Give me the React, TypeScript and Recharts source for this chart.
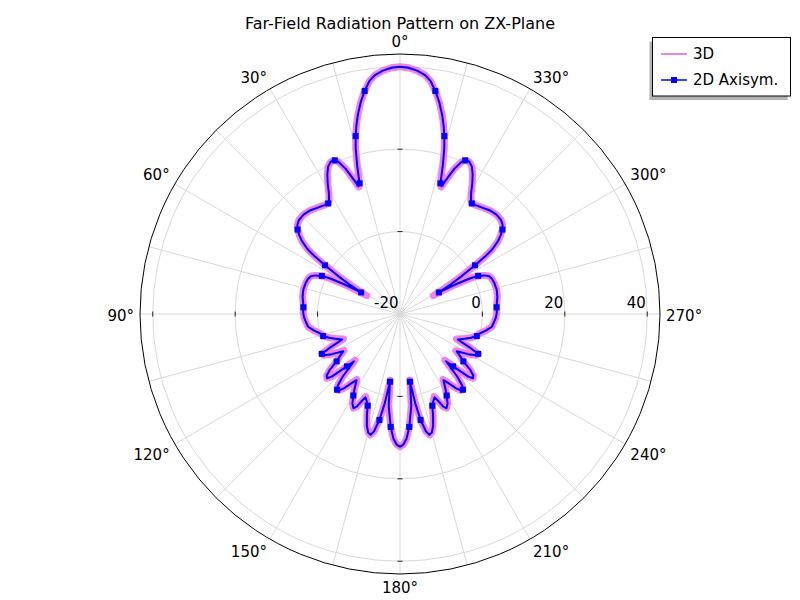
import { RadarChart, Radar, PolarGrid, PolarAngleAxis, PolarRadiusAxis } from 'recharts'

// far-field pattern, dB, theta counter-clockwise from the top (0..358)
const angles = [
  0, 2, 4, 6, 7.5, 9, 10.5, 12, 13, 14, 15, 16, 17.2, 18, 19, 20.5, 22, 23, 24.5, 26,
  27.5, 29, 30.5, 32, 33, 35, 38, 41, 44, 47, 49, 50.5, 52, 53.5, 55, 56, 57, 58.5, 60, 61,
  62, 63, 64, 65.5, 67, 69, 72, 76, 80, 83, 86, 89, 92, 95, 98, 101, 104, 106, 108.5, 111,
  113.8, 115.5, 117, 118.5, 120.5, 123.3, 125, 126.8, 128.5, 130, 131.3, 132.5, 134.6, 135.8, 137.5, 139, 140.3, 141.5, 143, 145,
  146.7, 148.5, 150.2, 152, 153.7, 155, 156.3, 157.5, 159, 160.6, 162, 163.5, 165, 166.3, 167.5, 169, 170.3, 171.6, 173, 175.3,
  177, 178.5, 180,
  181.5, 183, 184.7, 187, 188.4, 189.7, 191, 192.5, 193.7, 195, 196.5, 198, 199.4, 201, 202.5, 203.7, 205, 206.3, 208, 209.8,
  211.5, 213.3, 215, 217, 218.5, 219.7, 221, 222.5, 224.2, 225.4, 227.5, 228.7, 230, 231.5, 233.2, 235, 236.7, 239.5, 241.5, 243,
  244.5, 246.2, 249, 251.5, 254, 256, 259, 262, 265, 268, 271, 274, 277, 280, 284, 288, 291, 293, 294.5, 296,
  297, 298, 299, 300, 301.5, 303, 304, 305, 306.5, 308, 309.5, 311, 313, 316, 319, 322, 325, 327, 328, 329.5,
  331, 332.5, 334, 335.5, 337, 338, 339.5, 341, 342, 342.8, 344, 345, 346, 347, 348, 349.5, 351, 352.5, 354, 356, 358,
]

const axisym2d = [
  40.0, 39.8, 39.2, 38.3, 37.0, 34.8, 32.3, 29.3, 27.0, 24.5, 21.5, 17.8, 13.2, 12.6, 14.5, 17.6, 19.8, 20.5, 20.6, 19.8,
  18.2, 16.2, 14.0, 12.5, 12.0, 12.2, 12.7, 13.3, 13.6, 13.5, 13.0, 12.2, 11.0, 9.5, 7.3, 4.8, 1.7, -2.5, -6.5, -9.2,
  -4.5, -1.0, 1.1, 2.6, 3.5, 3.9, 4.1, 4.2, 4.0, 3.7, 3.5, 3.5, 3.3, 2.9, 2.5, 1.2, -0.2, -0.6, -1.8, -3.2,
  -4.6, -1.5, 1.3, 1.0, -0.8, -3.5, -2.2, -0.8, 1.8, 3.2, 3.6, 2.5, -1.9, -4.0, 0.5, 3.0, 3.9, 3.7, 2.5, 0.5,
  -0.8, 1.0, 2.8, 4.6, 5.5, 4.8, 3.0, 1.9, 2.6, 3.6, 6.0, 8.3, 9.8, 10.2, 9.2, 6.2, 2.0, -3.4, 2.5, 7.5,
  10.3, 11.7, 12.2,
  11.7, 10.3, 7.5, 2.5, -3.4, 2.0, 6.2, 9.2, 10.2, 9.8, 8.3, 6.0, 3.6, 2.6, 1.9, 3.0, 4.8, 5.5, 4.6, 2.8,
  1.0, -0.8, 0.5, 2.5, 3.7, 3.9, 3.0, 0.5, -4.0, -1.9, 2.5, 3.6, 3.2, 1.8, -0.8, -2.2, -3.5, -0.8, 1.0, 1.3,
  -1.5, -4.6, -3.2, -1.8, -0.6, -0.2, 1.2, 2.5, 2.9, 3.3, 3.5, 3.5, 3.7, 4.0, 4.2, 4.1, 3.9, 3.5, 2.6, 1.1,
  -1.0, -4.5, -9.2, -6.5, -2.5, 1.7, 4.8, 7.3, 9.5, 11.0, 12.2, 13.0, 13.5, 13.6, 13.3, 12.7, 12.2, 12.0, 12.5, 14.0,
  16.2, 18.2, 19.8, 20.6, 20.5, 19.8, 17.6, 14.5, 12.6, 13.2, 17.8, 21.5, 24.5, 27.0, 29.3, 32.3, 34.8, 37.0, 38.3, 39.2, 39.8,
]

const full3d = [
  40.0, 39.8, 39.2, 38.3, 37.0, 34.8, 32.3, 29.3, 27.0, 24.5, 21.5, 17.8, 13.0, 12.4, 14.5, 17.6, 19.8, 20.5, 20.6, 19.8,
  18.2, 16.2, 14.0, 12.5, 12.0, 12.2, 12.7, 13.3, 13.6, 13.5, 13.0, 12.2, 11.0, 9.5, 7.3, 4.8, 1.7, -2.8, -7.2, -10.8,
  -5.0, -1.0, 1.1, 2.6, 3.5, 3.9, 4.1, 4.2, 4.0, 3.7, 3.5, 3.5, 3.3, 2.9, 2.5, 1.2, -0.2, -0.6, -1.8, -3.4,
  -5.0, -1.5, 1.3, 1.0, -0.8, -3.8, -2.2, -0.8, 1.8, 3.2, 3.6, 2.5, -1.9, -4.4, 0.5, 3.0, 3.9, 3.7, 2.5, 0.5,
  -1.0, 1.0, 2.8, 4.6, 5.5, 4.8, 3.0, 1.7, 2.6, 3.6, 6.0, 8.3, 9.8, 10.2, 9.2, 6.2, 2.0, -3.8, 2.5, 7.5,
  10.3, 11.7, 12.2,
  11.7, 10.3, 7.5, 2.5, -3.8, 2.0, 6.2, 9.2, 10.2, 9.8, 8.3, 6.0, 3.6, 2.6, 1.7, 3.0, 4.8, 5.5, 4.6, 2.8,
  1.0, -1.0, 0.5, 2.5, 3.7, 3.9, 3.0, 0.5, -4.4, -1.9, 2.5, 3.6, 3.2, 1.8, -0.8, -2.2, -3.8, -0.8, 1.0, 1.3,
  -1.5, -5.0, -3.4, -1.8, -0.6, -0.2, 1.2, 2.5, 2.9, 3.3, 3.5, 3.5, 3.7, 4.0, 4.2, 4.1, 3.9, 3.5, 2.6, 1.1,
  -1.0, -5.0, -10.8, -7.2, -2.8, 1.7, 4.8, 7.3, 9.5, 11.0, 12.2, 13.0, 13.5, 13.6, 13.3, 12.7, 12.2, 12.0, 12.5, 14.0,
  16.2, 18.2, 19.8, 20.6, 20.5, 19.8, 17.6, 14.5, 12.4, 13.0, 17.8, 21.5, 24.5, 27.0, 29.3, 32.3, 34.8, 37.0, 38.3, 39.2, 39.8,
]

// where the 2D series carries a square marker
const markerAngles = [
  9, 14, 17.2, 23, 33, 50.5, 57, 61, 64, 86, 106, 117, 126.8, 134.6, 140.3, 150.2, 160.6, 169, 171.6, 175.3,
  184.7, 188.4, 191, 199.4, 209.8, 219.7, 225.4, 233.2, 243, 254, 274, 296, 299, 303, 309.5, 327, 337, 342.8, 346, 351,
]

const angleTicks = [0, 15, 30, 45, 60, 75, 90, 105, 120, 135, 150, 165, 180, 195, 210, 225, 240, 255, 270, 285, 300, 315, 330, 345]
const radiusTicks = [-20, 0, 20, 40]
const radiusDomain = [-20, 43.1]

const title = 'Far-Field Radiation Pattern on ZX-Plane'
const series = [
  { key: 'full3d', name: '3D', color: '#ee82ee' },
  { key: 'axisym2d', name: '2D Axisym.', color: '#0000ff' },
]

const data = angles.map((a, i) => ({ angle: a, axisym2d: axisym2d[i], full3d: full3d[i] }))

const CX = 400, CY = 314, R = 260
const FONT = '"DejaVu Sans", Verdana, sans-serif'

function AngleTick(props: any) {
  const { payload } = props
  const deg = payload.value as number
  if (deg % 30 !== 0) return <g />
  const rad = (payload.coordinate * Math.PI) / 180
  const ux = Math.cos(rad), uy = Math.sin(rad)
  const x = CX + (R + 6) * ux
  // labels sit just outside the rim: pushed up in the top half, down in the bottom half
  const push = uy > 0.01 ? -6.5 : uy < -0.01 ? 7.5 : 1.5
  const y = CY - (R + 6) * uy + push
  const anchor = ux < -0.01 ? 'end' : ux > 0.01 ? 'start' : 'middle'
  return (
    <text x={x} y={y} dy="0.36em" textAnchor={anchor} fontSize={15} fontFamily={FONT} fill="#000">
      {deg}°
    </text>
  )
}

function RadiusTick(props: any) {
  const { payload } = props
  const r = payload.coordinate as number
  const m = 2.5
  return (
    <g>
      {r > 1 && (
        <g stroke="#222" strokeWidth={1}>
          <line x1={CX + r} y1={CY - m} x2={CX + r} y2={CY + m} />
          <line x1={CX - r} y1={CY - m} x2={CX - r} y2={CY + m} />
          <line x1={CX - m} y1={CY - r} x2={CX + m} y2={CY - r} />
          <line x1={CX - m} y1={CY + r} x2={CX + m} y2={CY + r} />
        </g>
      )}
      <text x={CX + r - 1.5} y={CY - 6.5} textAnchor="end" fontSize={15} fontFamily={FONT} fill="#000" stroke="none">
        {payload.value}
      </text>
    </g>
  )
}

function SquareDot(props: any) {
  const { cx, cy, index } = props
  if (!markerAngles.includes(angles[index])) return <g key={index} />
  return <rect key={index} x={cx - 3} y={cy - 3} width={6} height={6} fill="#0000ff" stroke="none" />
}

export default function App() {
  return (
    <div style={{ position: 'relative', width: 800, height: 600, background: '#fff' }}>
      <style>{'body{margin:0}'}</style>
      <RadarChart width={800} height={600} data={data} cx={CX} cy={CY} outerRadius={R} innerRadius={0}
        startAngle={90} endAngle={450} margin={{ top: 0, right: 0, bottom: 0, left: 0 }}>
        <PolarGrid gridType="circle" stroke="#d9d9d9" strokeWidth={1} />
        <PolarAngleAxis dataKey="angle" type="number" domain={[0, 360]} ticks={angleTicks} tickLine={false}
          axisLine={{ stroke: '#000', strokeWidth: 1 }} axisLineType="circle" tick={AngleTick} />
        <PolarRadiusAxis type="number" domain={radiusDomain} ticks={radiusTicks} angle={0} axisLine={false}
          tick={RadiusTick} allowDataOverflow />
        <Radar dataKey="full3d" name="3D" stroke="#ee82ee" strokeWidth={7} strokeLinejoin="round" fill="none"
          fillOpacity={0} dot={false} isAnimationActive={false} />
        <Radar dataKey="axisym2d" name="2D Axisym." stroke="#0000ff" strokeWidth={2} strokeLinejoin="round" fill="none"
          fillOpacity={0} dot={SquareDot} isAnimationActive={false} />
      </RadarChart>

      <svg width={800} height={600} style={{ position: 'absolute', left: 0, top: 0, pointerEvents: 'none' }}>
        <text x={400} y={29} textAnchor="middle" fontSize={16} fontFamily={FONT} fill="#000">{title}</text>
        <rect x={649.5} y={41.5} width={138} height={58.5} fill="#b3b3b3" />
        <rect x={652.5} y={37.5} width={138} height={58.5} fill="#fff" stroke="#000" strokeWidth={1} />
        {series.map((s, i) => {
          const y = 54 + i * 26
          return (
            <g key={s.key}>
              <line x1={661} y1={y} x2={687} y2={y} stroke={s.color} strokeWidth={i === 0 ? 2 : 1.5} />
              {i === 1 && <rect x={671} y={y - 3} width={6} height={6} fill={s.color} />}
              <text x={693} y={y} dy="0.36em" fontSize={15} fontFamily={FONT} fill="#000">{s.name}</text>
            </g>
          )
        })}
      </svg>
    </div>
  )
}
